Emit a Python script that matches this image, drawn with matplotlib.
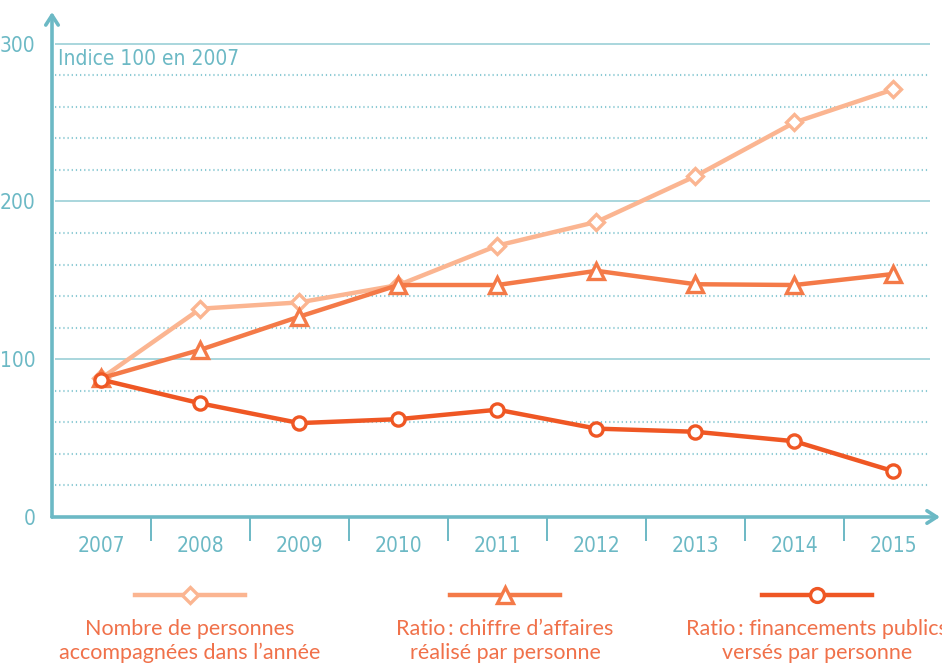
import matplotlib
matplotlib.use("Agg")
import matplotlib.pyplot as plt
from matplotlib.lines import Line2D
import numpy as np

years = ["2007", "2008", "2009", "2010", "2011", "2012", "2013", "2014", "2015"]
personnes = [88, 132, 136, 147, 172, 187, 216, 250, 271]
chiffre_affaires = [88, 106, 127, 147, 147, 156, 147.5, 147, 154]
financements = [87, 72, 59.5, 62, 68, 56, 54, 48, 29]
labels = ["Nombre de personnes\naccompagnées dans l’année",
          "Ratio\u2009: chiffre d’affaires\nréalisé par personne",
          "Ratio\u2009: financements publics\nversés par personne"]

teal = "#6cb9c5"
c1, c2, c3 = "#fbb591", "#f47a48", "#ef5724"
tick_font = dict(family="DejaVu Sans", stretch="condensed", fontsize=15, color=teal)

W, H = 942, 663
fig = plt.figure(figsize=(W / 100, H / 100), dpi=100)
ax = fig.add_axes([52 / W, 146 / H, 888 / W, 505 / H])
x = np.arange(len(years))
ax.set_xlim(-0.5, 8.47)
ax.set_ylim(0, 320)

# grid: solid every 100, dotted every 20
for v in range(20, 301, 20):
    if v % 100 == 0:
        ax.hlines(v, -0.47, 8.37, color="#a9d6dd", lw=1.4, zorder=1)
    else:
        ax.hlines(v, -0.47, 8.37, color="#8ccad4", lw=1.5, linestyles=(0, (0.6, 1.4)), zorder=1)

for s in ax.spines.values():
    s.set_visible(False)
for tip in [(0, 1), (1, 0)]:
    ax.annotate("", xy=tip, xytext=(0, 0), xycoords="axes fraction",
                arrowprops=dict(arrowstyle="->,head_length=0.7,head_width=0.45", color=teal,
                                lw=2.6, shrinkA=0, shrinkB=0))

mk = dict(markerfacecolor="white", markeredgewidth=2.4, zorder=3)
ax.plot(x, personnes, color=c1, lw=3.2, marker="D", markeredgecolor=c1, markersize=8.5, **mk)
ax.plot(x, chiffre_affaires, color=c2, lw=3.2, marker="^", markeredgecolor=c2, markersize=11, **mk)
ax.plot(x, financements, color=c3, lw=3.2, marker="o", markeredgecolor=c3, markersize=9.5, **mk)

ax.set_yticks([0, 100, 200, 300])
ax.set_yticklabels(["0", "100", "200", "300"], **tick_font)
ax.tick_params(axis="y", length=0, pad=12)
ax.set_xticks(x)
ax.set_xticklabels(years, **tick_font)
ax.tick_params(axis="x", length=0, pad=14)
ax.set_xticks(x[:-1] + 0.5, minor=True)
ax.tick_params(axis="x", which="minor", length=17, width=1.4, color=teal, direction="out")

ax.text(-0.44, 290, "Indice 100 en 2007", va="center", ha="left", **tick_font)

# legend under the chart
centers = [190, 505, 817]
for cx, col, m, ms, lab in zip(centers, [c1, c2, c3], ["D", "^", "o"], [8.5, 12, 10], labels):
    yl = 1 - 595 / H
    fig.add_artist(Line2D([(cx - 55) / W, (cx + 55) / W], [yl, yl], color=col, lw=3.2,
                          transform=fig.transFigure))
    fig.add_artist(Line2D([cx / W], [yl], color=col, marker=m, markersize=ms,
                          markerfacecolor="white", markeredgewidth=2.4, transform=fig.transFigure))
    fig.text(cx / W, 1 - 641 / H, lab, ha="center", va="center", fontsize=15.5,
             family="Lato", color="#f0714a", linespacing=1.2)

fig.savefig("out.png", dpi=100)
